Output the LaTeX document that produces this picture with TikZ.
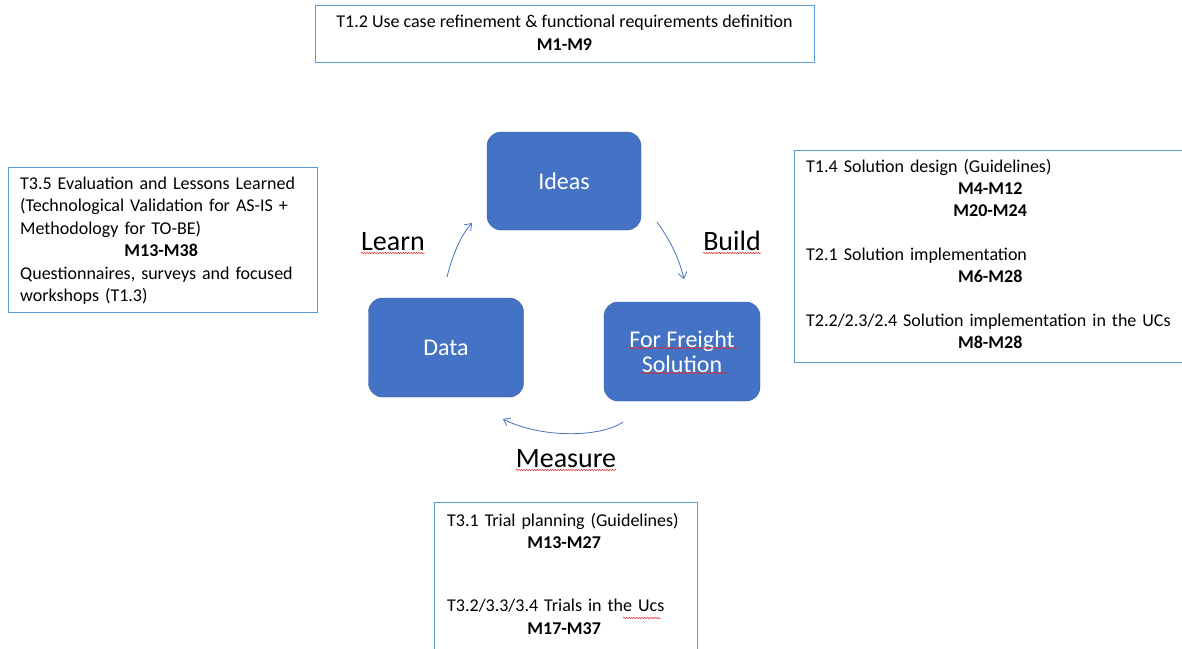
\documentclass[tikz,border=0pt]{standalone}
\usepackage{fontspec}
\setmainfont{Carlito}
\usetikzlibrary{arrows.meta,decorations.pathmorphing}
\definecolor{boxblue}{RGB}{68,114,196}
\definecolor{frameblue}{RGB}{91,155,213}
\definecolor{spellred}{RGB}{225,45,45}
\begin{document}
\begin{tikzpicture}[x=1pt,y=-1pt,
  frame/.style={draw=frameblue,line width=0.9pt,inner sep=0pt,anchor=north west},
  ttext/.style={inner sep=0pt,font=\fontsize{18}{22.5}\selectfont},
  cycbox/.style={fill=boxblue,draw=boxblue!80!black,line width=0.4pt,rounded corners=14pt,inner sep=0pt,
    text=white,align=center,font=\fontsize{24}{25}\selectfont},
  lab/.style={inner sep=0pt,font=\fontsize{28}{30}\selectfont,anchor=base},
  cyc/.style={draw=boxblue,line width=0.8pt,-{Straight Barb[length=6pt,width=9pt]}},
  squig/.style={draw=spellred,line width=0.5pt,decorate,decoration={snake,amplitude=0.7pt,segment length=2.6pt}}]
\useasboundingbox (0,0) rectangle (1182,648);
\fill[white] (0,0) rectangle (1182,648);

% text frames
\node[frame,minimum width=499pt,minimum height=57pt] (ftop) at (315,5) {};
\node[ttext,align=center,anchor=base] (ttop) at (564.5,50) {T1.2 Use case refinement \& functional requirements definition\\\textbf{M1-M9}};

\node[frame,minimum width=309pt,minimum height=145pt] (fleft) at (8,167) {};
\node[ttext,text width=300pt,align=left,anchor=base west] (tleft) at (20,189)
 {T3.5 Evaluation and Lessons Learned\\(Technological Validation for AS-IS +\\Methodology for TO-BE)\\\makebox[282pt]{\bfseries M13-M38}\\Questionnaires, surveys and focused\\workshops (T1.3)};

\node[frame,minimum width=400pt,minimum height=212pt] (fright) at (794,150) {};
\node[ttext,text width=385pt,align=left,anchor=base west,font=\fontsize{18}{22}\selectfont] (tright) at (806,172)
 {T1.4 Solution design (Guidelines)\\\makebox[368pt]{\bfseries M4-M12}\\\makebox[368pt]{\bfseries M20-M24}\\[22pt]T2.1 Solution implementation\\\makebox[368pt]{\bfseries M6-M28}\\[22pt]T2.2/2.3/2.4 Solution implementation in the UCs\\\makebox[368pt]{\bfseries M8-M28}};

\node[frame,minimum width=263pt,minimum height=160pt] (fbot) at (434,502) {};
\node[ttext,text width=250pt,align=left,anchor=base west] (tbot) at (447,526)
 {T3.1 Trial planning (Guidelines)\\\makebox[234pt]{\bfseries M13-M27}\\[40.5pt]T3.2/3.3/3.4 Trials in the Ucs\\\makebox[234pt]{\bfseries M17-M37}};

% cycle boxes
\node[cycbox,minimum width=154pt,minimum height=98pt] (ideas) at (564,181) {Ideas};
\node[cycbox,minimum width=155pt,minimum height=99pt] (data) at (446,347.5) {Data};
\node[cycbox,minimum width=156pt,minimum height=99pt] (sol) at (682,351.5) {For Freight\\Solution};

% labels
\node[lab] (learn) at (393,250) {Learn};
\node[lab] (build) at (732,250) {Build};
\node[lab] (measure) at (566,467) {Measure};

% cycle arrows
\coordinate (l1) at (447,277); \coordinate (l2) at (472,223);
\coordinate (b1) at (657,222); \coordinate (b2) at (684,279);
\coordinate (m1) at (623,422); \coordinate (m2) at (503,419);
\draw[cyc] (l1) .. controls (452,257) and (460,236) .. (l2);
\draw[cyc] (b1) .. controls (667,236) and (678,254) .. (b2);
\draw[cyc] (m1) .. controls (600,438) and (540,438) .. (m2);

% spelling marks
\draw[squig] ([yshift=-3pt]learn.base west) -- ([yshift=-3pt]learn.base east);
\draw[squig] ([yshift=-3pt]build.base west) -- ([yshift=-3pt]build.base east);
\draw[squig] ([yshift=-3pt]measure.base west) -- ([yshift=-3pt]measure.base east);
\draw[squig] (628,348) -- (738,348);
\draw[squig] (641,373) -- (727,373);
\draw[squig] (623,618) -- (661,618);
\end{tikzpicture}
\end{document}
